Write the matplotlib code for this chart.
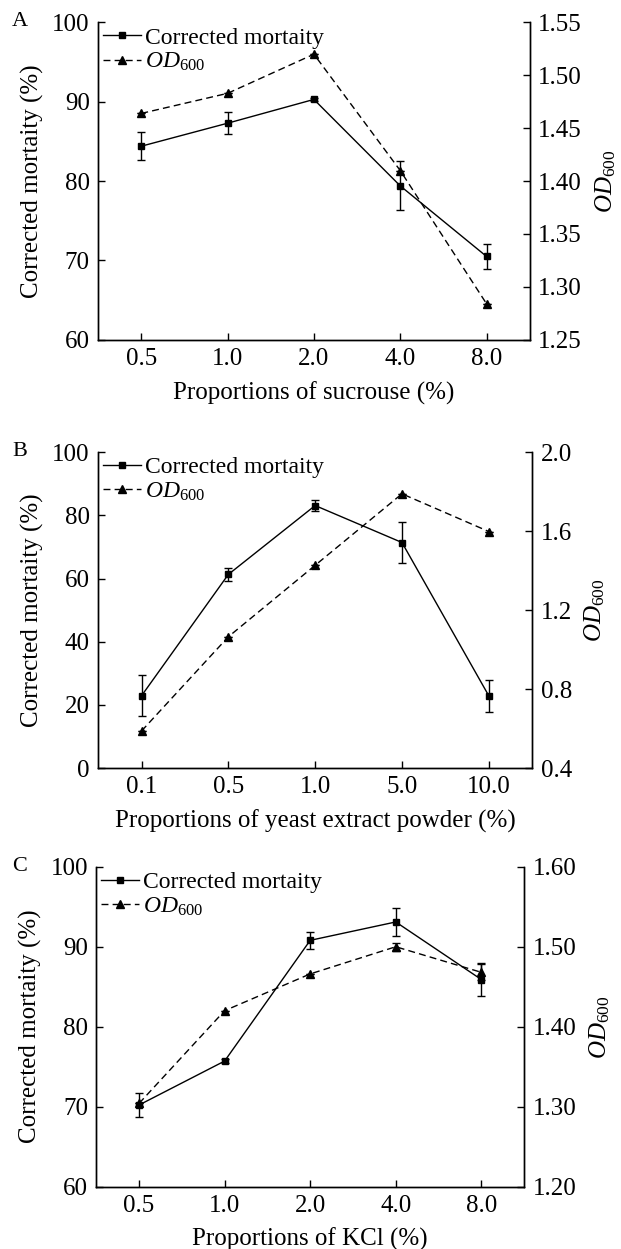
import numpy as np
import matplotlib.pyplot as plt

plt.rcParams['font.family'] = ['Liberation Serif', 'DejaVu Serif']
plt.rcParams['mathtext.fontset'] = 'custom'
plt.rcParams['mathtext.rm'] = 'Liberation Serif'
plt.rcParams['mathtext.it'] = 'Liberation Serif:italic'

# Panel A - sucrose
sucrose_labels = ['0.5', '1.0', '2.0', '4.0', '8.0']
sucrose_mort = [84.4, 87.3, 90.3, 79.4, 70.5]
sucrose_mort_err = [1.8, 1.4, 0.2, 3.1, 1.6]
sucrose_od = [1.464, 1.483, 1.520, 1.410, 1.284]
sucrose_od_err = [0.0, 0.0, 0.0, 0.0, 0.0]

# Panel B - yeast extract powder
yeast_labels = ['0.1', '0.5', '1.0', '5.0', '10.0']
yeast_mort = [22.9, 61.3, 83.1, 71.4, 22.9]
yeast_mort_err = [6.5, 2.0, 1.8, 6.6, 5.1]
yeast_od = [0.588, 1.065, 1.427, 1.789, 1.598]
yeast_od_err = [0.0, 0.0, 0.0, 0.0, 0.0]

# Panel C - KCl
kcl_labels = ['0.5', '1.0', '2.0', '4.0', '8.0']
kcl_mort = [70.2, 75.7, 90.8, 93.1, 85.9]
kcl_mort_err = [1.45, 0.3, 1.1, 1.8, 2.1]
kcl_od = [1.304, 1.420, 1.466, 1.500, 1.468]
kcl_od_err = [0.0, 0.0, 0.0, 0.005, 0.01]

panels = [
    ('A', sucrose_labels, sucrose_mort, sucrose_mort_err, sucrose_od, sucrose_od_err,
     'Proportions of sucrouse (%)', (60, 100), [60, 70, 80, 90, 100],
     (1.25, 1.55), [1.25, 1.30, 1.35, 1.40, 1.45, 1.50, 1.55], '%.2f',
     [0.158, 0.728, 0.695, 0.254]),
    ('B', yeast_labels, yeast_mort, yeast_mort_err, yeast_od, yeast_od_err,
     'Proportions of yeast extract powder (%)', (0, 100), [0, 20, 40, 60, 80, 100],
     (0.4, 2.0), [0.4, 0.8, 1.2, 1.6, 2.0], '%.1f',
     [0.158, 0.385, 0.699, 0.253]),
    ('C', kcl_labels, kcl_mort, kcl_mort_err, kcl_od, kcl_od_err,
     'Proportions of KCl (%)', (60, 100), [60, 70, 80, 90, 100],
     (1.20, 1.60), [1.20, 1.30, 1.40, 1.50, 1.60], '%.2f',
     [0.155, 0.050, 0.689, 0.256]),
]

fig = plt.figure(figsize=(6.21, 12.49), dpi=100)
fs = 18

for (letter, labels, mort, mort_err, od, od_err, xlabel, ylim, yticks,
     ylim2, yticks2, fmt2, rect) in panels:
    ax = fig.add_axes(rect)
    x = np.arange(len(labels))
    l1 = ax.errorbar(x, mort, yerr=mort_err, color='black', marker='s', markersize=5,
                     linewidth=1, capsize=3, elinewidth=1, capthick=1,
                     label='Corrected mortaity')
    ax2 = ax.twinx()
    l2 = ax2.errorbar(x, od, yerr=od_err, color='black', marker='^', markersize=6,
                      linewidth=1, linestyle=(0, (5, 3)), capsize=3, elinewidth=1,
                      capthick=1, label='$\\mathit{OD}_{600}$')
    ax.set_xlim(-0.5, 4.5)
    ax.set_ylim(*ylim)
    ax.set_yticks(yticks)
    ax2.set_ylim(*ylim2)
    ax2.set_yticks(yticks2)
    ax2.set_yticklabels([fmt2 % v for v in yticks2])
    ax.set_xticks(x)
    ax.set_xticklabels(labels)
    ax.set_xlabel(xlabel, fontsize=fs, labelpad=8)
    ax.set_ylabel('Corrected mortaity (%)', fontsize=fs, labelpad=6)
    ax2.set_ylabel('$\\mathit{OD}_{600}$', fontsize=fs, labelpad=8)
    for a in (ax, ax2):
        a.tick_params(direction='in', length=5, width=1, labelsize=fs, pad=6)
        a.spines['top'].set_visible(False)
        for s in a.spines.values():
            s.set_linewidth(1)
    ax.legend(handles=[l1[0], l2[0]], labels=['Corrected mortaity', '$\\mathit{OD}_{600}$'],
              loc='upper left', frameon=False, fontsize=17, handlelength=1.6,
              handletextpad=0.2, borderaxespad=0.1, labelspacing=0.1,
              borderpad=0.1)
    fig.text(12 / 621, rect[1] + rect[3] + 0.008, letter, fontsize=16, va='top')

fig.savefig('out.png', dpi=100)
